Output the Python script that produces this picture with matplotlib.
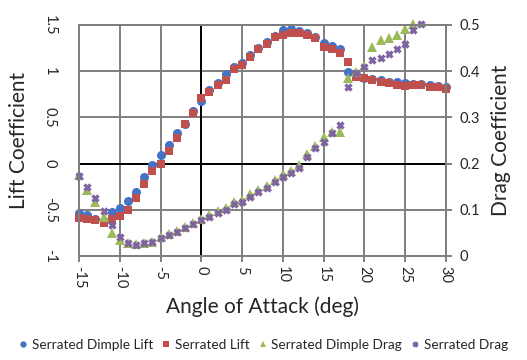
import numpy as np
import matplotlib
matplotlib.use('Agg')
import matplotlib.pyplot as plt

plt.rcParams['font.family'] = ['Lato', 'DejaVu Sans']

# angle of attack (deg)
alpha_lift = np.arange(-15, 31)
alpha_drag_dimple = np.arange(-15, 27)
alpha_drag = np.arange(-15, 28)

serrated_dimple_lift = [-0.54, -0.56, -0.60, -0.62, -0.52, -0.48, -0.41, -0.31,
    -0.15, -0.02, 0.09, 0.20, 0.33, 0.43, 0.57, 0.68, 0.79, 0.87, 0.97, 1.04,
    1.09, 1.17, 1.25, 1.31, 1.38, 1.44, 1.45, 1.43, 1.41, 1.37, 1.30, 1.27,
    1.24, 0.99, 0.97, 0.93, 0.91, 0.90, 0.88, 0.88, 0.87, 0.86, 0.86, 0.85,
    0.84, 0.83]
serrated_lift = [-0.59, -0.60, -0.61, -0.64, -0.60, -0.57, -0.50, -0.37,
    -0.22, -0.08, 0.00, 0.13, 0.28, 0.43, 0.55, 0.71, 0.77, 0.85, 0.90, 1.02,
    1.07, 1.15, 1.24, 1.29, 1.37, 1.39, 1.41, 1.41, 1.39, 1.36, 1.26, 1.24,
    1.20, 1.10, 0.94, 0.92, 0.90, 0.88, 0.87, 0.85, 0.84, 0.85, 0.85, 0.83,
    0.83, 0.81]
serrated_dimple_drag = [0.176, 0.143, 0.117, 0.085, 0.050, 0.035, 0.028, 0.025,
    0.027, 0.031, 0.040, 0.047, 0.055, 0.063, 0.072, 0.080, 0.088, 0.097,
    0.104, 0.117, 0.121, 0.133, 0.143, 0.152, 0.165, 0.177, 0.184, 0.196,
    0.220, 0.238, 0.257, 0.268, 0.268, 0.386, 0.398, 0.412, 0.452, 0.468,
    0.472, 0.478, 0.491, 0.502]
serrated_drag = [0.172, 0.150, 0.126, 0.098, 0.067, 0.041, 0.028, 0.024,
    0.028, 0.030, 0.039, 0.046, 0.052, 0.061, 0.070, 0.078, 0.085, 0.093,
    0.100, 0.113, 0.117, 0.128, 0.139, 0.148, 0.161, 0.170, 0.180, 0.191,
    0.215, 0.233, 0.246, 0.265, 0.283, 0.366, 0.395, 0.409, 0.425, 0.428,
    0.437, 0.447, 0.459, 0.488, 0.502]

lift_ticks = [-1, -0.5, 0, 0.5, 1, 1.5]
drag_ticks = [0, 0.1, 0.2, 0.3, 0.4, 0.5]
x_ticks = np.arange(-15, 31, 5)

grid_col = '#7f7f7f'
text_col = '#262626'

fig = plt.figure(figsize=(5.27, 3.6), dpi=100)
ax = fig.add_axes([0.150, 0.289, 0.696, 0.642])
ax2 = ax.twinx()

# lift on the left axis
h1, = ax.plot(alpha_lift, serrated_dimple_lift, 'o', color='#4472C4',
    ms=6.5, mew=0, label='Serrated Dimple Lift', clip_on=False, zorder=3)
h2, = ax.plot(alpha_lift, serrated_lift, 's', color='#C0504D',
    ms=6, mew=0, label='Serrated Lift', clip_on=False, zorder=4)
# drag on the right axis
h3, = ax2.plot(alpha_drag_dimple, serrated_dimple_drag, '^', color='#9BBB59',
    ms=6.5, mew=0, label='Serrated Dimple Drag', clip_on=False)
h4, = ax2.plot(alpha_drag, serrated_drag, 'x', color='#8064A2',
    ms=5, mew=2.4, label='Serrated Drag', clip_on=False)

ax.set_xlim(-15, 30)
ax.set_ylim(-1, 1.5)
ax2.set_ylim(0, 0.5)

ax.set_xticks(x_ticks)
ax.set_xticklabels([str(t) for t in x_ticks], rotation=-90, fontsize=10.5,
    color=text_col)
ax.set_yticks(lift_ticks)
ax.set_yticklabels(['-1', '-0.5', '0', '0.5', '1', '1.5'], rotation=-90,
    fontsize=10.5, color=text_col, va='center')
ax2.set_yticks(drag_ticks)
ax2.set_yticklabels(['0', '0.1', '0.2', '0.3', '0.4', '0.5'], fontsize=10.5,
    color=text_col)

ax.grid(True, color=grid_col, lw=1.4, zorder=0)
ax.set_axisbelow(True)
ax.axhline(0, color='black', lw=1.4, zorder=1)
ax.axvline(0, color='black', lw=1.4, zorder=1)
for a in (ax, ax2):
    for s in a.spines.values():
        s.set_color(grid_col)
        s.set_linewidth(1.4)

ax.tick_params(axis='x', length=4, color=grid_col, width=1.4, pad=3)
ax.tick_params(axis='y', length=0, pad=16)
ax2.tick_params(axis='y', length=4, color=grid_col, width=1.4, pad=6)

ax.set_xlabel('Angle of Attack (deg)', fontsize=15, color=text_col, labelpad=6)
ax.set_ylabel('Lift Coefficient', fontsize=15, color=text_col, labelpad=10)
ax2.set_ylabel('Drag Coefficient', fontsize=15, color=text_col, labelpad=8)

fig.legend(handles=[h1, h2, h3, h4], loc='center', ncol=4,
    bbox_to_anchor=(0.5, 0.042), frameon=False, fontsize=9.8,
    handlelength=0.6, handletextpad=0.3, columnspacing=0.7, markerscale=0.7,
    labelcolor=text_col)

fig.savefig('out.png', dpi=100)
